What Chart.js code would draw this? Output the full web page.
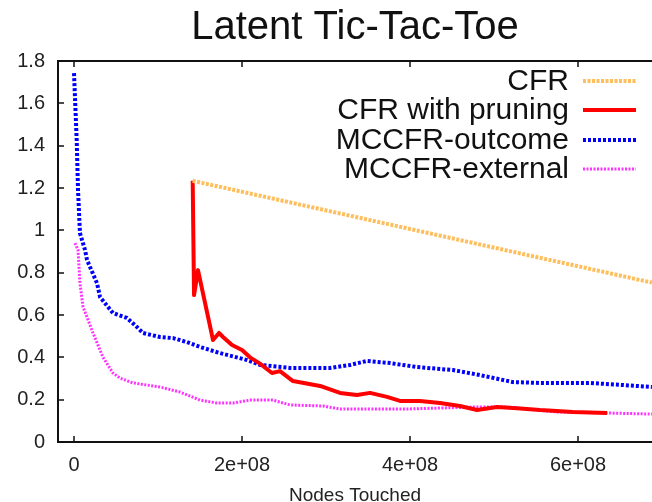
<!DOCTYPE html>
<html><head><meta charset="utf-8">
<script src="https://cdn.jsdelivr.net/npm/chart.js@4.4.0/dist/chart.umd.min.js"></script>
<style>html,body{margin:0;padding:0;background:#fff}#wrap{width:652px;height:502px}</style>
</head><body><div id="wrap"><canvas id="c" width="652" height="502"></canvas></div>
<script>
const chartTitle = 'Latent Tic-Tac-Toe';
const xAxisTitle = 'Nodes Touched';
const seriesNames = ['CFR', 'CFR with pruning', 'MCCFR-outcome', 'MCCFR-external'];
const xTickValues = [0, 2e8, 4e8, 6e8];
const xTickLabels = ['0', '2e+08', '4e+08', '6e+08'];
const yTickValues = [0, 0.2, 0.4, 0.6, 0.8, 1, 1.2, 1.4, 1.6, 1.8];
const yTickLabels = ['0', '0.2', '0.4', '0.6', '0.8', '1', '1.2', '1.4', '1.6', '1.8'];

const cfrNodes = [1.413e8, 6.88e8];
const cfrValues = [1.234, 0.753];

const pruningNodes = [1.413e8, 1.429e8, 1.476e8, 1.655e8, 1.726e8, 1.774e8, 1.881e8, 2.0e8, 2.095e8, 2.214e8, 2.357e8, 2.452e8, 2.607e8, 2.929e8, 3.167e8, 3.369e8, 3.524e8, 3.726e8, 3.881e8, 4.119e8, 4.357e8, 4.595e8, 4.798e8, 5.036e8, 5.274e8, 5.548e8, 5.94e8, 6.345e8];
const pruningValues = [1.234, 0.694, 0.812, 0.482, 0.515, 0.496, 0.458, 0.435, 0.40, 0.37, 0.326, 0.335, 0.288, 0.265, 0.232, 0.222, 0.232, 0.213, 0.194, 0.194, 0.184, 0.17, 0.151, 0.165, 0.16, 0.151, 0.142, 0.137];

const outcomeNodes = [0, 3.2e6, 4.8e6, 7.1e6, 1.31e7, 1.55e7, 2.74e7, 3.10e7, 4.64e7, 6.31e7, 7.50e7, 8.21e7, 1.024e8, 1.179e8, 1.345e8, 1.50e8, 1.738e8, 2.06e8, 2.214e8, 2.571e8, 3.048e8, 3.286e8, 3.488e8, 3.762e8, 4.083e8, 4.512e8, 4.833e8, 5.226e8, 5.548e8, 6.143e8, 6.536e8, 6.88e8];
const outcomeValues = [1.743, 1.427, 1.19, 0.987, 0.907, 0.86, 0.75, 0.685, 0.609, 0.586, 0.543, 0.515, 0.496, 0.491, 0.472, 0.449, 0.42, 0.387, 0.364, 0.35, 0.35, 0.364, 0.383, 0.373, 0.354, 0.34, 0.316, 0.283, 0.279, 0.279, 0.269, 0.26];

const externalNodes = [1.2e6, 4.8e6, 7.1e6, 1.07e7, 2.26e7, 3.45e7, 4.64e7, 5.48e7, 7.02e7, 1.024e8, 1.262e8, 1.50e8, 1.702e8, 1.893e8, 2.095e8, 2.369e8, 2.571e8, 2.964e8, 3.167e8, 3.964e8, 4.75e8, 5.155e8, 5.75e8, 6.345e8, 6.88e8];
const externalValues = [0.94, 0.907, 0.75, 0.64, 0.515, 0.40, 0.326, 0.302, 0.279, 0.26, 0.236, 0.198, 0.184, 0.184, 0.198, 0.198, 0.175, 0.17, 0.156, 0.156, 0.165, 0.165, 0.142, 0.137, 0.132];

const pts = (xs, ys) => xs.map((x, i) => ({ x: x, y: ys[i] }));
const FONT = "'Liberation Sans', Arial, Helvetica, sans-serif";

const frameAndLegend = {
  id: 'frameAndLegend',
  afterDatasetsDraw(chart) {
    const { ctx, chartArea: a, scales } = chart;
    ctx.save();
    ctx.strokeStyle = '#111';
    ctx.lineWidth = 2;
    ctx.setLineDash([]);
    ctx.beginPath();
    ctx.moveTo(a.right + 2, a.top); ctx.lineTo(a.left, a.top);
    ctx.lineTo(a.left, a.bottom); ctx.lineTo(a.right + 2, a.bottom);
    ctx.stroke();
    ctx.lineWidth = 1.5;
    ctx.beginPath();
    xTickValues.forEach(v => {
      const px = Math.round(scales.x.getPixelForValue(v));
      ctx.moveTo(px, a.bottom); ctx.lineTo(px, a.bottom - 6);
      ctx.moveTo(px, a.top); ctx.lineTo(px, a.top + 6);
    });
    yTickValues.forEach(v => {
      const py = Math.round(scales.y.getPixelForValue(v));
      ctx.moveTo(a.left, py); ctx.lineTo(a.left + 6, py);
    });
    ctx.stroke();
    // legend
    const textRight = 569, sx0 = 583, sx1 = 636;
    const rowCenters = [81, 110, 140, 169];
    ctx.font = '30px ' + FONT;
    ctx.textAlign = 'right';
    ctx.textBaseline = 'middle';
    chart.data.datasets.forEach((ds, i) => {
      const y = rowCenters[i];
      ctx.fillStyle = '#111';
      ctx.fillText(ds.label, textRight, y + 1);
      ctx.strokeStyle = ds.borderColor;
      ctx.lineWidth = ds.borderWidth;
      ctx.lineCap = 'butt';
      ctx.setLineDash(ds.borderDash || []);
      ctx.beginPath();
      ctx.moveTo(sx0, y); ctx.lineTo(sx1, y);
      ctx.stroke();
    });
    ctx.restore();
  }
};

new Chart(document.getElementById('c'), {
  type: 'line',
  data: {
    datasets: [
      { label: seriesNames[0], data: pts(cfrNodes, cfrValues), borderColor: '#FFBE5C', borderWidth: 4, borderDash: [3, 1.5] },
      { label: seriesNames[1], data: pts(pruningNodes, pruningValues), borderColor: '#FF0000', borderWidth: 4 },
      { label: seriesNames[2], data: pts(outcomeNodes, outcomeValues), borderColor: '#0000FF', borderWidth: 4, borderDash: [3, 2] },
      { label: seriesNames[3], data: pts(externalNodes, externalValues), borderColor: '#FF33FF', borderWidth: 3, borderDash: [2, 1.5] }
    ].map(d => Object.assign(d, { pointRadius: 0, tension: 0, fill: false, borderJoinStyle: 'round' }))
  },
  options: {
    responsive: false,
    animation: false,
    layout: { padding: 0 },
    plugins: {
      legend: { display: false },
      tooltip: { enabled: false },
      title: {
        display: true, text: chartTitle, fullSize: false, color: '#111',
        font: { family: FONT, size: 40, weight: 'normal', lineHeight: 1.2 },
        padding: { top: 4, bottom: 9 }
      }
    },
    scales: {
      x: {
        type: 'linear', min: -1.905e7, max: 6.881e8,
        afterFit: s => { s.height = 60; },
        afterBuildTicks: s => { s.ticks = xTickValues.map(v => ({ value: v })); },
        grid: { display: false, drawTicks: false },
        border: { display: false },
        ticks: {
          color: '#222', font: { family: FONT, size: 20 }, padding: 11, maxRotation: 0, autoSkip: false,
          callback: v => xTickLabels[xTickValues.indexOf(v)]
        },
        title: { display: true, text: xAxisTitle, color: '#222', font: { family: FONT, size: 19, lineHeight: 0.7 }, padding: 0 }
      },
      y: {
        type: 'linear', min: 0, max: 1.8,
        afterFit: s => { s.width = 58; },
        afterBuildTicks: s => { s.ticks = yTickValues.map(v => ({ value: v })); },
        grid: { display: false, drawTicks: false },
        border: { display: false },
        ticks: {
          color: '#222', font: { family: FONT, size: 20 }, padding: 13, autoSkip: false,
          callback: v => yTickLabels[yTickValues.indexOf(v)]
        }
      }
    }
  },
  plugins: [frameAndLegend]
});
</script>
</body></html>
